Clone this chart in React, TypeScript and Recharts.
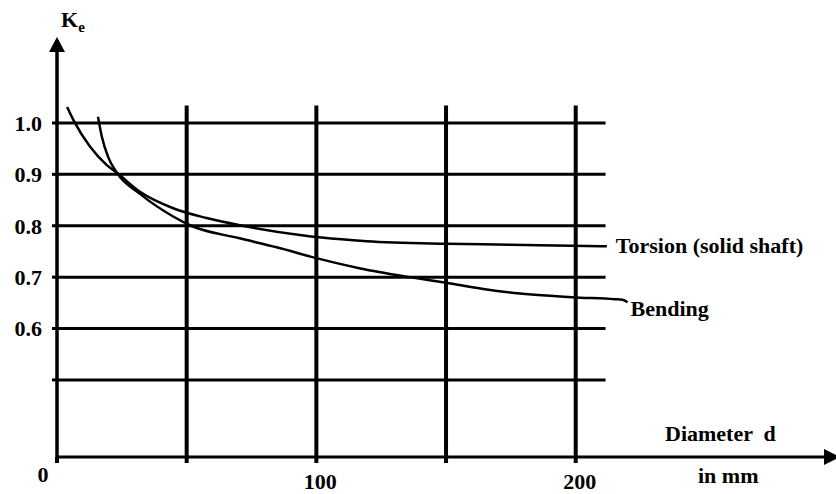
import { LineChart, Line, XAxis, YAxis, ReferenceLine, ReferenceDot } from 'recharts';

const FONT = 'Liberation Serif, Times New Roman, serif';

const xTicks = [0, 50, 100, 150, 200];
const xLabelled = [0, 100, 200];
const yTicks = [0.5, 0.6, 0.7, 0.8, 0.9, 1.0];
const gridCols = [50, 100, 150, 200];

const torsionD = [3.9, 6.3, 12.7, 19.2, 23.1, 32, 44.8, 57.7, 70.5, 93.7, 102, 119.4, 150, 175, 198.5, 212];
const torsionK = [1.031, 1.006, 0.954, 0.918, 0.903, 0.866, 0.834, 0.815, 0.801, 0.782, 0.777, 0.77, 0.765, 0.763, 0.761, 0.76];

const bendingD = [15.8, 17.3, 19.7, 23.1, 32, 44.8, 51.7, 70, 84.7, 100, 117, 136, 150, 164.4, 178.5, 198.5, 215, 218, 220];
const bendingK = [1.012, 0.973, 0.934, 0.903, 0.862, 0.818, 0.8, 0.776, 0.758, 0.737, 0.717, 0.7, 0.689, 0.677, 0.668, 0.661, 0.657, 0.656, 0.651];

const torsion = torsionD.map((d, i) => ({ d, k: torsionK[i] }));
const bending = bendingD.map((d, i) => ({ d, k: bendingK[i] }));

const txtStyle = { fontFamily: FONT, fontWeight: 700, fontSize: 22 };
const txt = { fill: '#000', fontFamily: FONT, fontWeight: 700, fontSize: 22, style: txtStyle };

const XTick = (props: any) => {
  const { x, y, payload } = props;
  const v = payload.value;
  if (!xLabelled.includes(v)) return <g />;
  if (v === 0) {
    return <text x={x - 14} y={y + 17} textAnchor="middle" {...txt}>0</text>;
  }
  return <text x={x + 4} y={y + 24} textAnchor="middle" {...txt}>{v}</text>;
};

const XTitle = (props: any) => {
  const { x, y, width } = props.viewBox;
  const right = x + width;
  return (
    <g>
      <text x={right - 161} y={y - 16} {...txt} style={{ ...txtStyle, whiteSpace: 'pre' }}>Diameter  d</text>
      <text x={right - 128} y={y + 26} {...txt}>in mm</text>
    </g>
  );
};

const YArrow = (props: any) => {
  const { cx, cy } = props;
  return (
    <g>
      <polygon points={`${cx},${cy - 13} ${cx - 8},${cy + 2} ${cx + 8},${cy + 2}`} fill="#000" />
      <text x={cx + 4} y={cy - 23} {...txt}>
        K<tspan style={{ fontSize: 15 }} dy={5}>e</tspan>
      </text>
    </g>
  );
};

const XArrow = (props: any) => {
  const { cx, cy } = props;
  return <polygon points={`${cx - 2},${cy - 8} ${cx + 14},${cy} ${cx - 2},${cy + 8}`} fill="#000" />;
};

const endLabel = (text: string, last: number, dx: number, dy: number) => (p: any) => {
  if (p.index !== last) return <g />;
  return <text x={p.x + dx} y={p.y + dy} {...txt}>{text}</text>;
};

export default function App() {
  return (
    <div style={{ position: 'fixed', left: 0, top: 0, background: '#fff' }}>
      <LineChart width={836} height={494} margin={{ top: 50, right: 10, bottom: 0, left: 0 }}>
        <XAxis
          type="number"
          dataKey="d"
          domain={[0, 296.5]}
          allowDataOverflow
          ticks={xTicks}
          interval={0}
          height={37}
          tickSize={6}
          tickLine={{ stroke: '#000', strokeWidth: 4 }}
          axisLine={{ stroke: '#000', strokeWidth: 3 }}
          tick={XTick}
          label={{ content: XTitle }}
        />
        <YAxis
          type="number"
          domain={[0.35, 1.142]}
          allowDataOverflow
          ticks={yTicks}
          interval={0}
          width={57}
          tickSize={5}
          tickMargin={10}
          tickLine={{ stroke: '#000', strokeWidth: 3 }}
          axisLine={{ stroke: '#000', strokeWidth: 3.5 }}
          tickFormatter={(v: number) => (v === 0.5 ? '' : v.toFixed(1))}
          tick={txt}
        />
        {yTicks.map((v) => (
          <ReferenceLine key={'h' + v} segment={[{ x: 0, y: v }, { x: 211.5, y: v }]} stroke="#000" strokeWidth={3} ifOverflow="visible" />
        ))}
        {gridCols.map((v) => (
          <ReferenceLine key={'v' + v} segment={[{ x: v, y: 0.35 }, { x: v, y: 1.034 }]} stroke="#000" strokeWidth={4} ifOverflow="visible" />
        ))}
        <Line
          data={torsion}
          dataKey="k"
          type="monotone"
          stroke="#000"
          strokeWidth={2.5}
          dot={false}
          isAnimationActive={false}
          label={endLabel('Torsion (solid shaft)', torsion.length - 1, 9, 7)}
        />
        <Line
          data={bending}
          dataKey="k"
          type="monotone"
          stroke="#000"
          strokeWidth={2.5}
          dot={false}
          isAnimationActive={false}
          label={endLabel('Bending', bending.length - 1, 3, 14)}
        />
        <ReferenceDot x={0} y={1.142} r={0} shape={YArrow} ifOverflow="visible" />
        <ReferenceDot x={296.5} y={0.35} r={0} shape={XArrow} ifOverflow="visible" />
      </LineChart>
    </div>
  );
}
